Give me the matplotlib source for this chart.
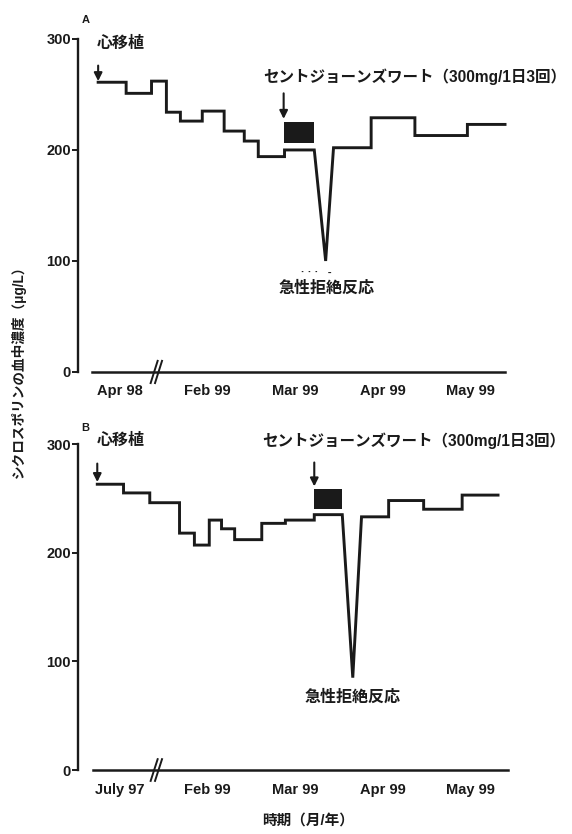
import numpy as np
import matplotlib
matplotlib.use("Agg")
import matplotlib.pyplot as plt

plt.rcParams['font.family'] = ['Liberation Sans', 'Noto Sans CJK JP', 'DejaVu Sans']
plt.rcParams['font.weight'] = 'bold'

INK = '#1a1a1a'

# x は月単位（0 = 左端ラベル, 1 = Feb 99, ...）
month_ticks = [0, 1, 2, 3, 4]
labels_a = ['Apr 98', 'Feb 99', 'Mar 99', 'Apr 99', 'May 99']
labels_b = ['July 97', 'Feb 99', 'Mar 99', 'Apr 99', 'May 99']

# 症例A
pre_edges_a = [-0.25, 0.07, 0.36, 0.53, 0.69, 0.94, 1.19, 1.42, 1.58, 1.88, 2.22]
pre_levels_a = [261, 251, 262, 234, 226, 235, 217, 208, 194, 200]
dip_a = (2.35, 100)
post_edges_a = [2.44, 2.87, 3.37, 3.97, 4.40]
post_levels_a = [202, 229, 213, 223]
dose_a = (1.87, 2.22, 206, 225)

# 症例B
pre_edges_b = [-0.26, 0.04, 0.34, 0.68, 0.85, 1.02, 1.16, 1.31, 1.62, 1.89, 2.22, 2.54]
pre_levels_b = [263, 255, 246, 218, 207, 230, 222, 212, 227, 230, 235]
dip_b = (2.66, 85)
post_edges_b = [2.76, 3.07, 3.47, 3.91, 4.32]
post_levels_b = [233, 248, 240, 253]
dose_b = (2.22, 2.54, 240, 259)

sjw_text = 'セントジョーンズワート（300mg/1日3回）'


def stairs(edges, levels):
    xs, ys = [], []
    for i, lv in enumerate(levels):
        xs += [edges[i], edges[i + 1]]
        ys += [lv, lv]
    return xs, ys


def panel(ax, tag, pre_e, pre_l, dip, post_e, post_l, dose, xlabels,
          tag_pos, tx_pos, sjw_pos, arr1, arr2, rej_pos, base_x, dots_pos=None):
    x1, y1 = stairs(pre_e, pre_l)
    x2, y2 = stairs(post_e, post_l)
    xs = x1 + [dip[0]] + x2
    ys = y1 + [dip[1]] + y2
    ax.plot(xs, ys, color=INK, lw=2.1, solid_joinstyle='miter', clip_on=False)

    # 投与期間
    ax.fill_between([dose[0], dose[1]], dose[2], dose[3], color=INK, lw=0)

    # 横軸（省略記号つき）
    ax.plot(base_x, [0, 0], color=INK, lw=1.8, clip_on=False)
    for bx in (0.39, 0.44):
        ax.plot([bx - 0.04, bx + 0.04], [-10, 10], color=INK, lw=1.4, clip_on=False)

    ax.set_xlim(-0.48, 4.8)
    ax.set_ylim(0, 300)
    for s in ('top', 'right', 'bottom'):
        ax.spines[s].set_visible(False)
    ax.spines['left'].set_bounds(0, 300)
    ax.spines['left'].set_linewidth(1.7)
    ax.spines['left'].set_color(INK)
    ax.set_yticks([0, 100, 200, 300])
    ax.tick_params(axis='y', length=4, width=1.4, color=INK, pad=1,
                   labelsize=10.5, labelcolor=INK)
    ax.set_xticks(month_ticks)
    ax.set_xticklabels(xlabels)
    ax.tick_params(axis='x', length=0, pad=9, labelsize=10.5, labelcolor=INK)
    for t in ax.get_xticklabels() + ax.get_yticklabels():
        t.set_fontweight('bold')

    ax.text(*tag_pos, tag, fontsize=8, ha='center', va='center', color=INK)
    ax.text(*tx_pos, '心移植', fontsize=11.5, ha='left', va='center', color=INK)
    ax.text(*sjw_pos, sjw_text, fontsize=11.2, ha='left', va='center', color=INK)
    ax.text(*rej_pos, '急性拒絶反応', fontsize=11.5, ha='center', va='center', color=INK)
    if dots_pos is not None:
        ax.text(*dots_pos, '· · ·   -', fontsize=8, ha='center', va='center', color=INK)
    for ax_x, y_top, y_tip in (arr1, arr2):
        ax.annotate('', xy=(ax_x, y_tip), xytext=(ax_x, y_top),
                    arrowprops=dict(arrowstyle='-|>', color=INK, lw=1.5,
                                    mutation_scale=12, shrinkA=0, shrinkB=0),
                    annotation_clip=False)


fig = plt.figure(figsize=(5.72, 8.34), dpi=100)
ax_a = fig.add_axes([0.1364, 0.5540, 0.8077, 0.3993])
ax_b = fig.add_axes([0.1364, 0.0767, 0.8077, 0.3909])

panel(ax_a, 'A', pre_edges_a, pre_levels_a, dip_a, post_edges_a, post_levels_a,
      dose_a, labels_a, tag_pos=(-0.39, 317), tx_pos=(-0.27, 296),
      sjw_pos=(1.64, 266), arr1=(-0.25, 276, 262), arr2=(1.87, 251, 228),
      rej_pos=(2.36, 76), base_x=[-0.32, 4.40], dots_pos=(2.24, 90))
panel(ax_b, 'B', pre_edges_b, pre_levels_b, dip_b, post_edges_b, post_levels_b,
      dose_b, labels_b, tag_pos=(-0.40, 315), tx_pos=(-0.27, 303),
      sjw_pos=(1.62, 303), arr1=(-0.26, 282, 265), arr2=(2.22, 283, 261),
      rej_pos=(2.66, 67), base_x=[-0.31, 4.43])

fig.text(0.5385, 0.0156, '時期（月/年）', fontsize=10.5, ha='center', va='center', color=INK)
fig.text(0.0315, 0.558, 'シクロスポリンの血中濃度（μg/L）', fontsize=9.8, rotation=90,
         ha='center', va='center', color=INK)

fig.savefig('out.png', dpi=100)
